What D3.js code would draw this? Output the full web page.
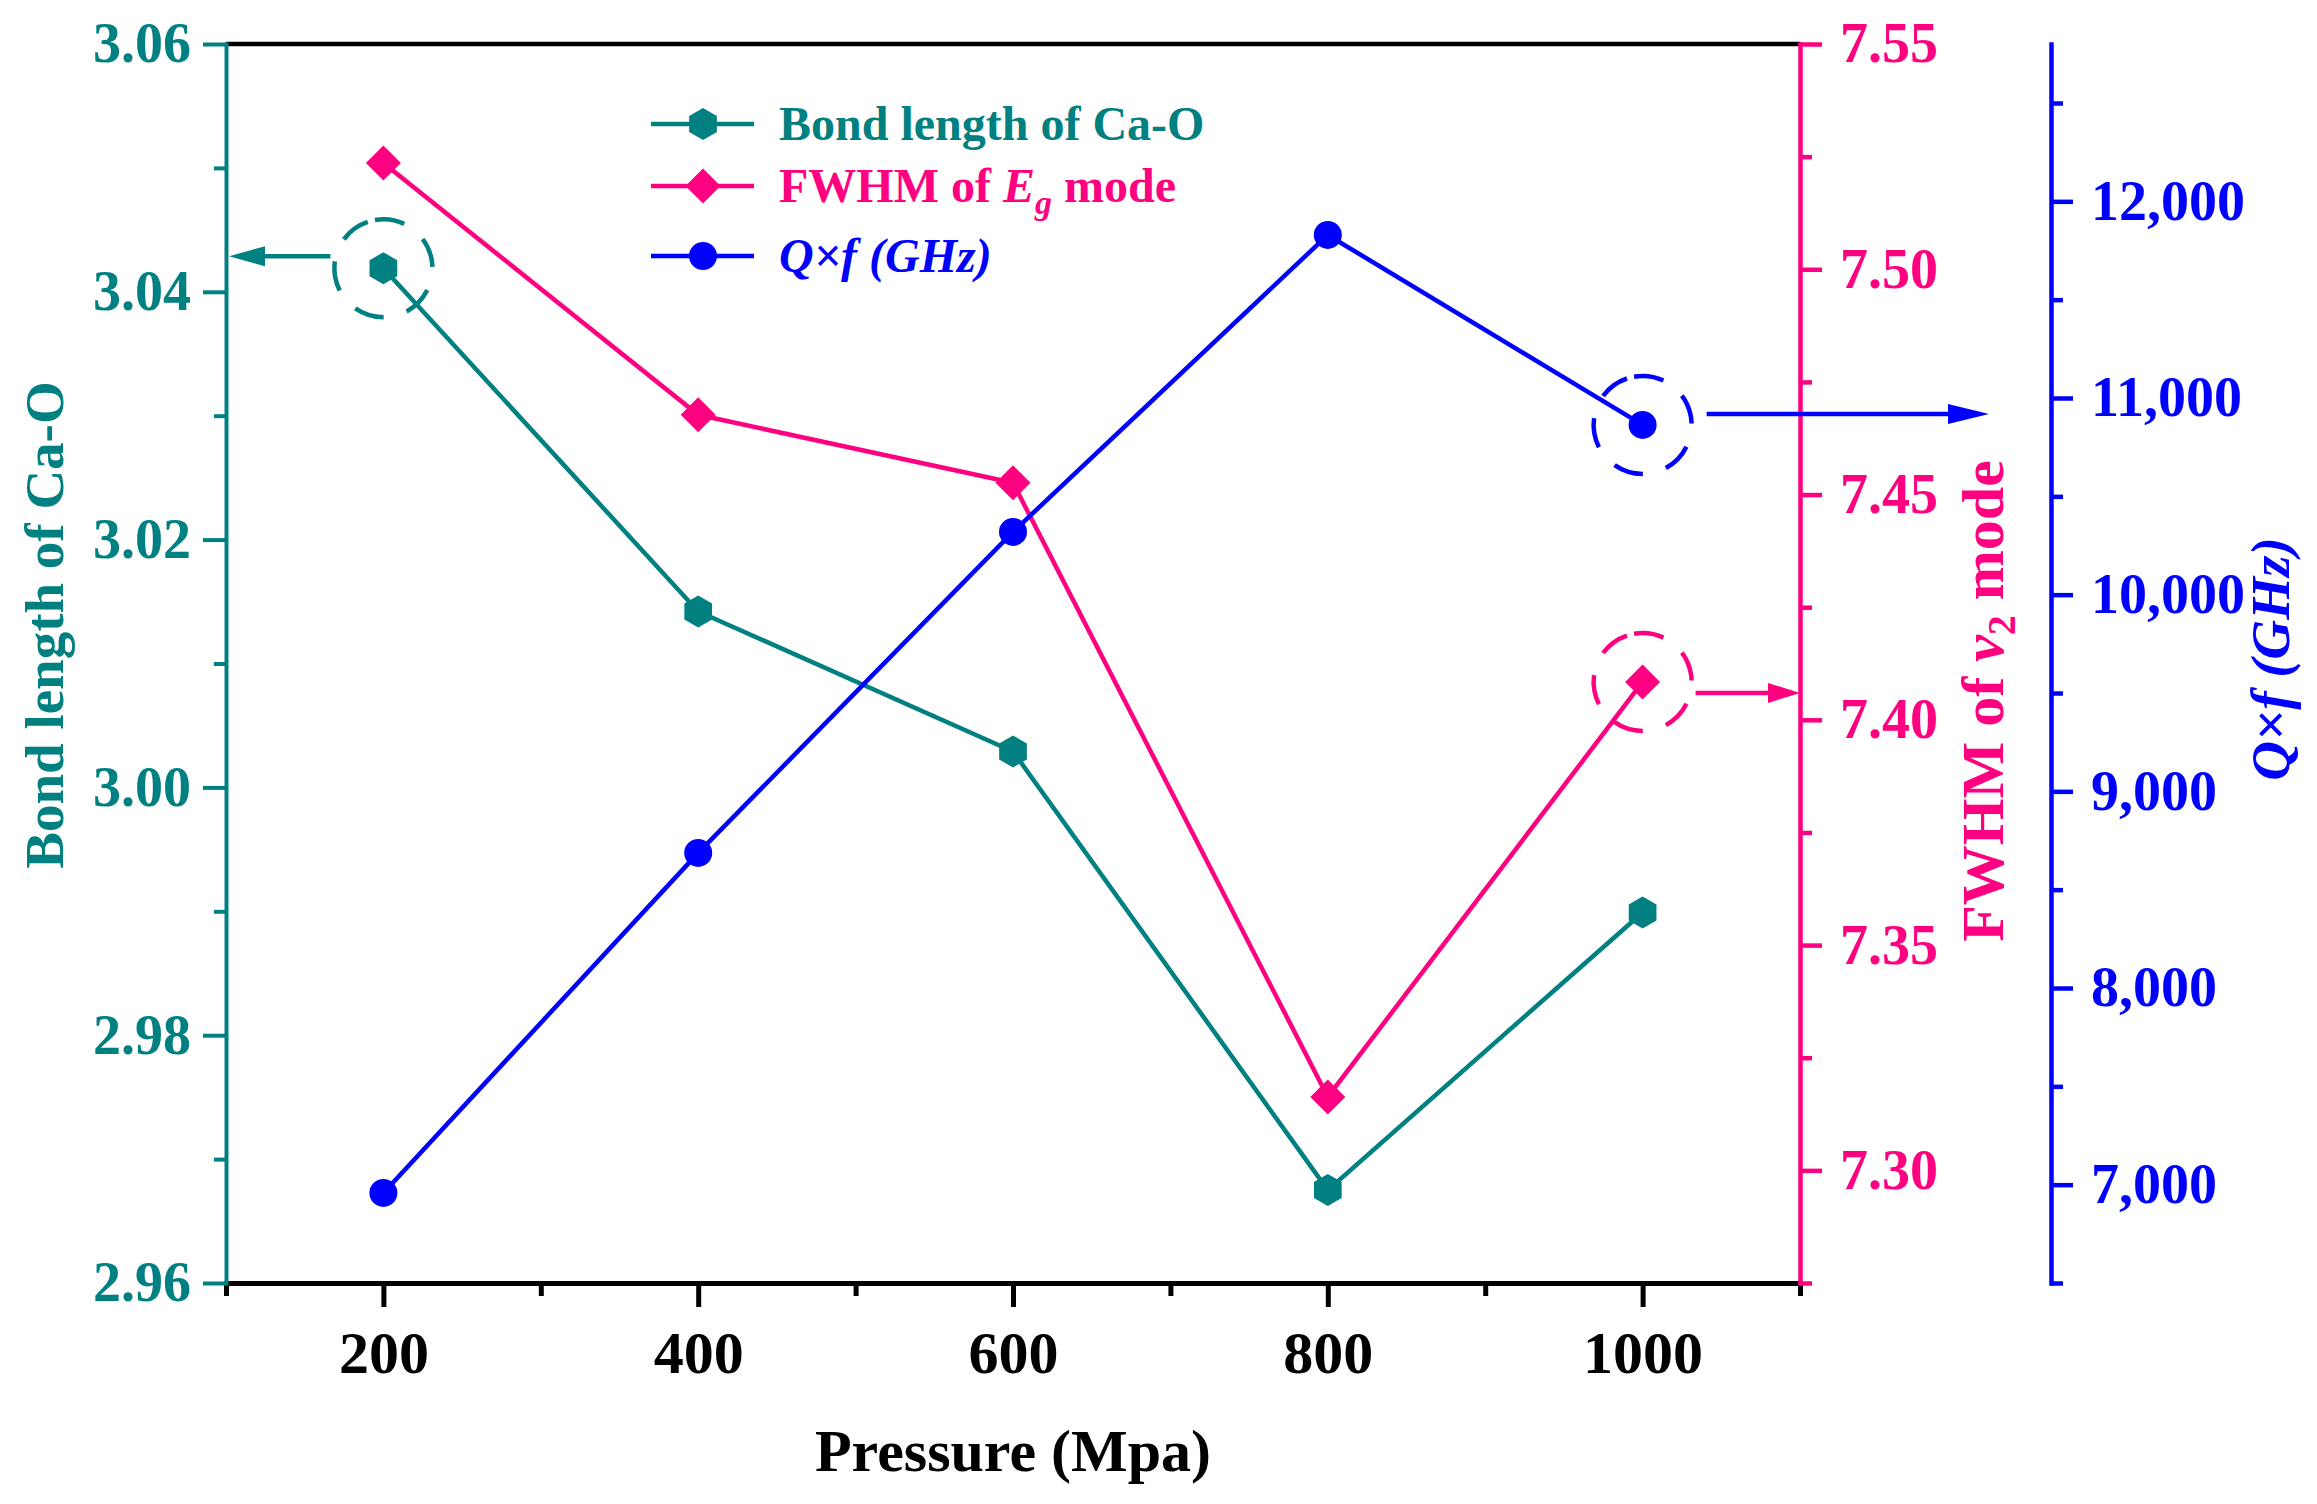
<!DOCTYPE html>
<html>
<head>
<meta charset="utf-8">
<script src="https://cdn.jsdelivr.net/npm/d3@7"></script>
<style>
    body { margin: 0; background: #fff; }
    svg { display: block; font-family: "Liberation Serif", "Times New Roman", serif; font-weight: bold; }
</style>
</head>
<body>
<svg width="2317" height="1504"></svg>
<script>
// values
const pressure = [200, 400, 600, 800, 1000];
const bondLength = [3.0419, 3.0142, 3.0029, 2.9675, 2.9899];
const fwhm = [7.5236, 7.4677, 7.4526, 7.3163, 7.4084];
const qf = [6958, 8687, 10319, 11829, 10863];

const xTicks = [200, 400, 600, 800, 1000];
const xMinor = [100, 300, 500, 700, 900, 1100];
const bondTicks = [2.96, 2.98, 3.00, 3.02, 3.04, 3.06];
const bondMinor = [2.97, 2.99, 3.01, 3.03, 3.05];
const fwhmTicks = [7.30, 7.35, 7.40, 7.45, 7.50, 7.55];
const fwhmMinor = [7.275, 7.325, 7.375, 7.425, 7.475, 7.525];
const qfTicks = [7000, 8000, 9000, 10000, 11000, 12000];
const qfMinor = [6500, 7500, 8500, 9500, 10500, 11500, 12500];

const svg = d3.select("svg");
const plot = { left: 226, right: 1800, top: 44, bottom: 1283 };
const qfAxisX = 2051;
const teal = "#008080", pink = "#ff0080", blue = "#0000ff";

const x = d3.scaleLinear().domain([100, 1100]).range([plot.left, plot.right]);
const yBond = d3.scaleLinear().domain([2.96, 3.06]).range([plot.bottom, plot.top]);
const yFwhm = d3.scaleLinear().domain([7.275, 7.55]).range([plot.bottom, plot.top]);
const yQf = d3.scaleLinear().domain([6500, 12800]).range([plot.bottom, plot.top]);

// axis helper: major ticks with labels + unlabeled minor ticks
function drawAxis(major, minor, transform, color, width, fontSize) {
    const g = svg.append("g").attr("transform", transform).call(major)
        .attr("font-family", null).attr("font-size", null);
    g.select(".domain").attr("stroke", color).attr("stroke-width", width).attr("stroke-linecap", "square");
    g.selectAll(".tick line").attr("stroke", color).attr("stroke-width", width);
    g.selectAll(".tick text").attr("fill", color).style("font-size", fontSize + "px");
    const m = svg.append("g").attr("transform", transform).call(minor);
    m.select(".domain").remove();
    m.selectAll(".tick line").attr("stroke", color).attr("stroke-width", width);
    return g;
}

// top frame line
svg.append("line")
    .attr("x1", plot.left).attr("x2", plot.right)
    .attr("y1", plot.top).attr("y2", plot.top)
    .attr("stroke", "#000").attr("stroke-width", 4.5);

drawAxis(
    d3.axisBottom(x).tickValues(xTicks).tickSize(24).tickSizeOuter(0).tickPadding(23).tickFormat(d3.format("d")),
    d3.axisBottom(x).tickValues(xMinor).tickSize(13).tickFormat(""),
    `translate(0,${plot.bottom})`, "#000", 5, 60);

drawAxis(
    d3.axisLeft(yBond).tickValues(bondTicks).tickSize(23).tickSizeOuter(0).tickPadding(12).tickFormat(d3.format(".2f")),
    d3.axisLeft(yBond).tickValues(bondMinor).tickSize(12).tickFormat(""),
    `translate(${plot.left},0)`, teal, 4, 56);

drawAxis(
    d3.axisRight(yFwhm).tickValues(fwhmTicks).tickSize(22).tickSizeOuter(0).tickPadding(18).tickFormat(d3.format(".2f")),
    d3.axisRight(yFwhm).tickValues(fwhmMinor).tickSize(12).tickFormat(""),
    `translate(${plot.right},0)`, pink, 4.5, 56);

drawAxis(
    d3.axisRight(yQf).tickValues(qfTicks).tickSize(22).tickSizeOuter(0).tickPadding(18).tickFormat(d3.format(",")),
    d3.axisRight(yQf).tickValues(qfMinor).tickSize(12).tickFormat(""),
    `translate(${qfAxisX},0)`, blue, 4.5, 56);

// axis titles
svg.append("text")
    .attr("x", (plot.left + plot.right) / 2).attr("y", 1471)
    .attr("text-anchor", "middle").style("font-size", "60px")
    .text("Pressure (Mpa)");

svg.append("text")
    .attr("transform", "translate(63,625) rotate(-90)")
    .attr("text-anchor", "middle").attr("fill", teal).style("font-size", "55px")
    .text("Bond length of Ca-O");

const fwhmTitle = svg.append("text")
    .attr("transform", "translate(2003,701) rotate(-90)")
    .attr("text-anchor", "middle").attr("fill", pink).style("font-size", "60px");
fwhmTitle.append("tspan").text("FWHM of ");
fwhmTitle.append("tspan").style("font-style", "italic").text("v");
fwhmTitle.append("tspan").style("font-size", "40px").attr("dy", 12).text("2");
fwhmTitle.append("tspan").attr("dy", -12).text(" mode");

svg.append("text")
    .attr("transform", "translate(2289,659) rotate(-90)")
    .attr("text-anchor", "middle").attr("fill", blue)
    .style("font-size", "55px").style("font-style", "italic")
    .text("Q×f (GHz)");

// marker shapes
const hexagon = r => d3.line()(d3.range(6).map(i => {
    const a = Math.PI / 3 * i - Math.PI / 2;
    return [r * Math.cos(a), r * Math.sin(a)];
})) + "Z";
const markers = {
    hexagon: hexagon(16),
    diamond: d3.symbol(d3.symbolSquare, 612)(),
    circle: d3.symbol(d3.symbolCircle, 616)()
};

const series = [
    { name: "bond", values: bondLength, y: yBond, color: teal, marker: "hexagon", rot: 0 },
    { name: "fwhm", values: fwhm, y: yFwhm, color: pink, marker: "diamond", rot: 45 },
    { name: "qf", values: qf, y: yQf, color: blue, marker: "circle", rot: 0 }
];

series.forEach(s => {
    const pts = pressure.map((p, i) => [x(p), s.y(s.values[i])]);
    svg.append("path")
        .attr("d", d3.line()(pts))
        .attr("fill", "none").attr("stroke", s.color).attr("stroke-width", 4.5);
    svg.append("g").selectAll("path").data(pts).join("path")
        .attr("d", markers[s.marker])
        .attr("transform", d => `translate(${d[0]},${d[1]}) rotate(${s.rot})`)
        .attr("fill", s.color);
});

// legend
const legendRows = [
    { y: 124, s: series[0] },
    { y: 186, s: series[1] },
    { y: 256, s: series[2] }
];
legendRows.forEach((row, i) => {
    const g = svg.append("g").attr("transform", `translate(0,${row.y})`);
    g.append("line").attr("x1", 651).attr("x2", 754)
        .attr("stroke", row.s.color).attr("stroke-width", 4.5);
    g.append("path").attr("d", markers[row.s.marker])
        .attr("transform", `translate(703,0) rotate(${row.s.rot})`)
        .attr("fill", row.s.color);
    const t = g.append("text").attr("x", 779).attr("y", 16)
        .attr("fill", row.s.color).style("font-size", "48px");
    if (i === 0) {
        t.text("Bond length of Ca-O");
    } else if (i === 1) {
        t.append("tspan").text("FWHM of ");
        t.append("tspan").style("font-style", "italic").text("E");
        t.append("tspan").style("font-style", "italic").style("font-size", "34px").attr("dy", 12).text("g");
        t.append("tspan").attr("dy", -12).text(" mode");
    } else {
        t.style("font-style", "italic").text("Q×f (GHz)");
    }
});

// dashed circles with arrows pointing to the matching axis
const callouts = [
    { s: series[0], i: 0, start: -53, tip: plot.left + 3, dy: -12, head: 36 },
    { s: series[1], i: 4, start: 53, tip: plot.right, dy: 11, head: 32 },
    { s: series[2], i: 4, start: 64, tip: qfAxisX - 62, dy: -11, head: 41 }
];
callouts.forEach(c => {
    const cx = x(pressure[c.i]), cy = c.s.y(c.s.values[c.i]);
    svg.append("circle")
        .attr("cx", cx).attr("cy", cy).attr("r", 49)
        .attr("fill", "none").attr("stroke", c.s.color)
        .attr("stroke-width", 4.5).attr("stroke-dasharray", "30,24")
        .attr("transform", `rotate(-100,${cx},${cy})`);
    const ay = cy + c.dy;
    const dir = Math.sign(c.tip - cx);
    const base = c.tip - dir * c.head;
    svg.append("line")
        .attr("x1", cx + c.start).attr("x2", base)
        .attr("y1", ay).attr("y2", ay)
        .attr("stroke", c.s.color).attr("stroke-width", 4.5);
    svg.append("path")
        .attr("d", d3.line()([[c.tip, ay], [base, ay - 10], [base, ay + 10]]) + "Z")
        .attr("fill", c.s.color);
});
</script>
</body>
</html>
